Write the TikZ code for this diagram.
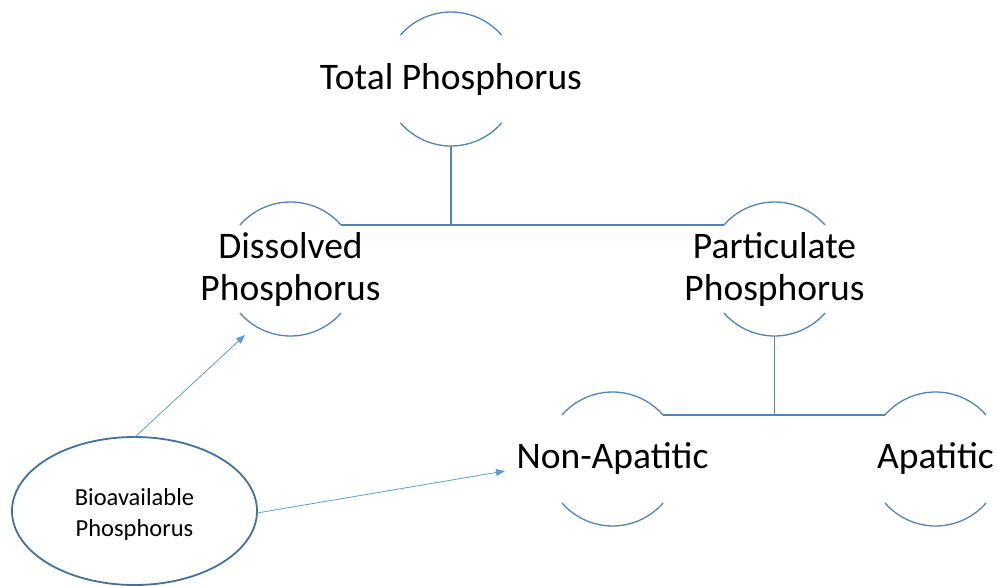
\documentclass[tikz,border=0pt]{standalone}
\usepackage{fontspec}
\setmainfont{Carlito}
\usetikzlibrary{arrows.meta}
\definecolor{arcblue}{HTML}{5282B8}
\definecolor{ellblue}{HTML}{41719C}
\definecolor{arrblue}{HTML}{5B9BD5}
\begin{document}
\begin{tikzpicture}[x=1pt,y=-1pt,
  arcline/.style={draw=arcblue,line width=1.3pt},
  bigtext/.style={inner sep=0pt,align=center,anchor=base,font=\fontsize{37.5}{42}\selectfont},
  smalltext/.style={inner sep=0pt,align=center,anchor=base,font=\fontsize{24.5}{30.5}\selectfont},
  arr/.style={draw=arrblue,line width=0.8pt,-{Triangle[length=9pt,width=7pt]}}]
\useasboundingbox (0,0) rectangle (997,586);
% arcs (circles r=67, open around the text band)
\foreach \cx/\cy/\nm in {451/79/tot,290.5/269/dis,774.5/269/par,612.5/459/non,935.5/459/apa}{
  \draw[arcline] (\cx,\cy) ++(221:67) arc[start angle=221,end angle=319,radius=67];
  \draw[arcline] (\cx,\cy) ++(41:67) arc[start angle=41,end angle=139,radius=67];
  \coordinate (\nm-t) at (\cx,\cy-67);
  \coordinate (\nm-b) at (\cx,\cy+67);
  \coordinate (\nm-l) at (\cx-50.5,\cy-44);
  \coordinate (\nm-r) at (\cx+50.5,\cy-44);
}
% texts
\node[bigtext] (ttot) at (451,90) {Total Phosphorus};
\node[bigtext] (tdis) at (290.5,300) {Dissolved\\Phosphorus};
\node[bigtext] (tpar) at (774.5,300) {Particulate\\Phosphorus};
\node[bigtext] (tnon) at (612.5,468) {Non-Apatitic};
\node[bigtext] (tapa) at (935.5,468) {Apatitic};
% tree connectors
\coordinate (j1) at (451,225);
\coordinate (j2) at (774.5,415);
\draw[arcline] (tot-b) -- (j1);
\draw[arcline] (dis-r) -- (par-l);
\draw[arcline] (par-b) -- (j2);
\draw[arcline] (non-r) -- (apa-l);
% bioavailable ellipse
\draw[draw=ellblue,line width=1.8pt] (134.5,511) ellipse [x radius=122.5,y radius=74];
\coordinate (bio-n) at (135,437);
\coordinate (bio-e) at (257,513);
\node[smalltext] (tbio) at (134.5,536) {Bioavailable\\Phosphorus};
\coordinate (adis) at (245,335);
\coordinate (anon) at (505,471);
\draw[arr] (bio-n) -- (adis);
\draw[arr] (bio-e) -- (anon);
\end{tikzpicture}
\end{document}
